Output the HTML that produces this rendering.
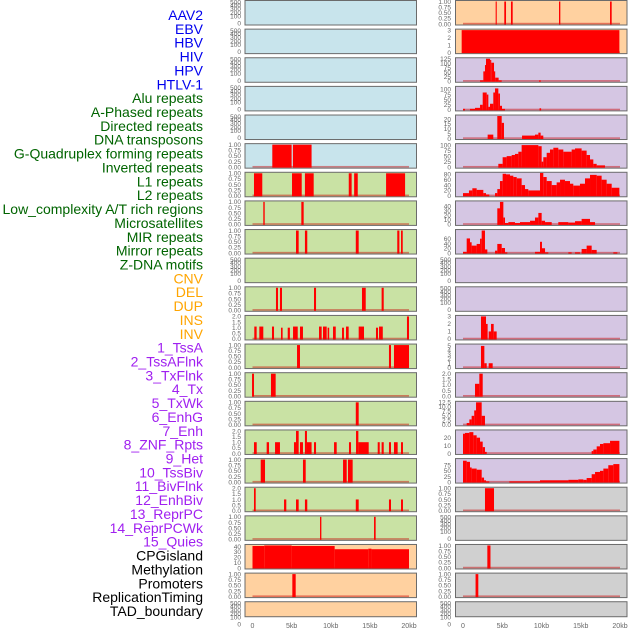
<!DOCTYPE html>
<html><head><meta charset="utf-8"><style>
html,body{margin:0;padding:0;background:#fff;}
svg{display:block;font-family:"Liberation Sans",sans-serif;}
</style></head><body>
<svg id="chart" width="630" height="630" viewBox="0 0 630 630" xmlns="http://www.w3.org/2000/svg">
<g id="labels"></g>
<g id="panels"></g>
<g id="xaxis"></g>
</svg>
<script>
const trackLabels = ["AAV2","EBV","HBV","HIV","HPV","HTLV-1","Alu repeats","A-Phased repeats","Directed repeats","DNA transposons","G-Quadruplex forming repeats","Inverted repeats","L1 repeats","L2 repeats","Low_complexity A/T rich regions","Microsatellites","MIR repeats","Mirror repeats","Z-DNA motifs","CNV","DEL","DUP","INS","INV","1_TssA","2_TssAFlnk","3_TxFlnk","4_Tx","5_TxWk","6_EnhG","7_Enh","8_ZNF_Rpts","9_Het","10_TssBiv","11_BivFlnk","12_EnhBiv","13_ReprPC","14_ReprPCWk","15_Quies","CPGisland","Methylation","Promoters","ReplicationTiming","TAD_boundary"];
const labelGroups = [6,13,5,15,5];
const groupColors = ["#0000ee","#006400","#ffa500","#a020f0","#000000"];
const xTickLabels = ["0","5kb","10kb","15kb","20kb"];
const xTickValues = [0,5,10,15,20];

const U=["0.00","0.25","0.50","0.75","1.00"], T2=["0.0","0.5","1.0","1.5","2.0"], E="empty";
const aTicks = [E,E,E,E,E,U,U,U,U,E,U,T2,U,U,U,T2,U,T2,U,["0","10","20","30","40"],U,E];
const aMax = [500,500,500,500,500,1,1,1,1,500,1,2,1,1,1,2,1,2,1,42,1,500];
const bTicks = [U,["0","1","2","3"],["0","25","50","75","100","125"],["0","25","50","75","100"],["0","5","10","15","20"],["0","25","50","75","100"],["0","20","40","60","80"],["0","10","20","30","40"],["0","20","40","60"],E,E,["0","1","2","3"],["0","1","2","3","4","5"],T2,["0.0","2.5","5.0","7.5","10.0","12.5"],["0","10","20"],["0","25","50","75"],U,E,U,U,E];
const bMax = [1,3,125,110,23,102,84,49,94,500,500,3,5.2,2,12.5,28.5,100,1,500,1,1,500];
const aBg = ["blue","blue","blue","blue","blue","blue","green","green","green","green","green","green","green","green","green","green","green","green","green","orange","orange","orange"];
const bBg = ["orange","orange","purple","purple","purple","purple","purple","purple","purple","purple","purple","purple","purple","purple","purple","purple","purple","gray","gray","gray","gray","gray"];

const aSegs = [
[],[],[],[],[],
[[2.53,5.0,1],[5.16,7.55,1]],
[[0.19,1.25,1],[5.05,6.29,1],[6.7,7.82,1],[12.3,12.67,1],[12.99,13.45,1],[17.07,19.5,1]],
[[1.38,1.56,1],[6.24,6.54,1]],
[[5.56,5.9,1],[6.7,7.0,1],[13.2,13.57,1],[18.5,18.77,1],[18.98,19.2,1]],
[],
[[3.0,3.26,1],[3.51,3.77,1],[7.86,8.12,1],[13.99,14.47,1],[16.5,16.77,1]],
[[0.23,0.53,1.1],[0.87,1.38,1.1],[2.49,2.75,1.1],[3.64,3.85,1],[4.5,4.78,1],[5.18,5.78,1.1],[6.07,6.45,1.1],[8.5,8.84,1.1],[9.01,9.48,1.1],[9.6,9.8,1],[10.29,10.64,1.1],[11.44,11.69,1],[11.95,12.29,1.1],[13.57,14.25,1.1],[15.78,16.04,1],[16.17,16.65,1.1],[19.74,20.0,2]],
[[5.69,6.07,1],[17.44,17.7,1],[18.08,20.0,1]],
[[-0.06,0.19,1],[2.36,2.96,1]],
[[13.2,13.57,1]],
[[0.19,0.54,1],[1.81,2.11,1],[2.88,3.51,1],[5.3,5.56,1],[5.56,5.9,2],[6.07,6.45,1],[6.7,6.96,2],[6.96,7.55,1],[7.86,8.12,1],[10.42,10.76,1],[12.33,12.59,1],[13.23,13.53,2],[13.53,14.85,1],[16.0,16.26,1],[16.5,16.77,1],[17.44,17.7,1],[18.08,18.55,1],[18.98,19.23,1]],
[[1.05,1.6,1],[6.45,6.8,1],[11.57,12.04,1],[12.2,12.8,1]],
[[0.19,0.41,2],[4.03,4.32,1],[5.56,5.9,1],[6.7,7.0,1],[13.2,13.57,1],[17.44,17.7,1],[18.98,19.23,1]],
[[8.63,8.8,1],[15.53,15.74,1]],
[[0,1.5,41],[1.5,5,42],[5,10.5,41],[10.5,14.8,35],[14.8,15.2,36],[15.2,20,35]],
[[5.09,5.52,1]],
[]
];
const bSegs = [
[[4.16,4.3,1],[5.26,5.48,1],[6.11,6.33,1],[12.23,12.4,1],[18.73,18.94,1]],
[[-0.17,19.92,3]],
[[2.17,2.59,5],[2.59,2.8,55],[2.8,2.93,90],[2.93,3.45,125],[3.45,3.6,118],[3.6,3.95,103],[3.95,4.1,55],[4.1,4.54,20],[4.54,4.93,5],[9.7,9.9,5]],
[[0,0.25,5],[0.89,1.53,5],[1.53,2.17,10],[2.17,2.51,25],[2.51,3.02,85],[3.02,3.23,75],[3.23,3.44,15],[3.44,3.86,30],[3.86,4.08,85],[4.08,4.5,105],[4.5,4.71,80],[4.71,4.97,20],[4.97,5.35,5],[9.75,9.95,8]],
[[3.14,3.86,4],[4.37,4.93,23],[4.93,5.22,16],[7.52,9.17,3],[9.17,9.6,4],[9.6,9.89,6],[9.89,10.23,3]],
[[4.5,5.05,15],[5.05,5.56,45],[5.56,6.2,50],[6.2,6.62,55],[6.62,7.05,60],[7.05,7.47,70],[7.47,7.9,100],[7.9,9.6,100],[9.6,10.02,95],[10.02,10.23,25],[10.23,10.66,45],[10.66,11.08,65],[11.08,11.51,80],[11.51,12.14,88],[12.14,12.78,80],[12.78,13.84,70],[13.84,14.27,80],[14.27,15.11,85],[15.11,15.75,75],[15.75,16.18,55],[16.18,16.6,35],[16.6,17.03,15],[17.03,18.09,8]],
[[0,0.76,10],[0.76,1.19,20],[1.19,1.74,28],[1.74,2.59,22],[2.59,2.93,10],[2.93,3.35,5],[4.08,4.37,10],[4.37,4.71,25],[4.71,5.05,55],[5.05,5.48,82],[5.48,5.99,80],[5.99,6.41,75],[6.41,6.84,70],[6.84,7.47,65],[7.47,7.9,40],[7.9,8.32,25],[8.32,9.81,20],[9.81,10.23,85],[10.23,10.66,70],[10.66,11.3,55],[11.3,11.93,40],[11.93,12.36,50],[12.36,12.99,60],[12.99,13.63,55],[13.63,14.05,45],[14.05,14.9,38],[14.9,15.54,45],[15.54,16.18,65],[16.18,17.03,78],[17.03,17.66,75],[17.66,18.3,60],[18.3,18.94,45],[18.94,19.92,30]],
[[4.37,4.71,35],[4.71,5.14,49],[5.14,5.35,15],[5.35,5.78,3],[5.78,6.62,5],[6.62,7.26,3],[7.26,8.54,5],[8.54,9.17,8],[9.17,9.6,15],[9.6,10.02,25],[10.02,10.45,8],[10.45,11.3,5],[12.14,13.42,5],[13.42,14.27,4],[14.27,15.11,7],[15.11,16.18,12],[16.18,16.82,5]],
[[0,0.47,5],[0.47,0.89,61],[0.89,1.1,45],[1.1,1.74,31],[1.74,2.17,38],[2.17,2.38,60],[2.38,2.8,94],[2.8,3.1,15],[4.08,4.37,10],[4.37,4.93,38],[4.93,5.35,21],[5.35,5.65,3],[9.17,9.81,5],[9.81,10.06,47],[10.06,10.45,20],[10.45,10.87,3],[13.42,13.84,3],[14.27,14.9,3],[15.11,15.75,17],[15.75,16.39,31],[16.39,17.03,13],[19.15,19.66,3]],
[],[],
[[2.29,2.93,3],[2.93,3.14,2],[3.27,3.57,1],[3.57,3.91,2],[3.91,4.29,1]],
[[2.29,2.72,5],[2.72,3.02,1],[3.27,3.78,1]],
[[1.53,2.08,1.1],[2.08,2.51,2]],
[[0.47,0.81,1],[0.81,1.1,3],[1.1,1.43,5],[1.43,1.66,8],[1.66,2.38,12.5],[2.38,2.8,5]],
[[0,0.25,25],[0.25,0.81,26],[0.81,1.32,27],[1.32,1.74,23],[1.74,2.17,20],[2.17,2.51,15],[2.51,2.8,8],[2.8,3.02,2],[16.39,16.6,3],[16.6,17.03,5],[17.03,17.45,9],[17.45,17.88,12],[17.88,18.73,13],[18.73,19.92,16]],
[[0,0.47,95],[0.47,0.89,90],[0.89,1.1,65],[1.1,1.74,60],[1.74,2.38,55],[2.38,2.68,20],[2.68,2.93,8],[2.93,3.35,3],[5.9,9.81,3],[9.81,13.42,8],[13.42,14.69,10],[14.69,15.33,12],[15.33,15.75,10],[15.75,16.39,18],[16.39,16.82,35],[16.82,17.45,45],[17.45,17.88,50],[17.88,18.51,60],[18.51,19.15,75],[19.15,19.92,80]],
[[2.8,3.95,1]],
[],
[[3.1,3.5,1]],
[[1.6,1.95,1]],
[]
];

const NS="http://www.w3.org/2000/svg";
const bgColors={blue:"#c8e4ec",green:"#c9e2a4",orange:"#ffd1a0",purple:"#d5c6e3",gray:"#d0d0d0"};
function mk(tag,attrs,parent){const e=document.createElementNS(NS,tag);for(const k in attrs)e.setAttribute(k,attrs[k]);parent.appendChild(e);return e;}

// labels
const gl=document.getElementById("labels");
let gi=0,cnt=0;
trackLabels.forEach((t,i)=>{
  while(cnt>=labelGroups[gi]){cnt-=labelGroups[gi];gi++;}
  cnt++;
  const e=mk("text",{x:203,y:15+i*13.86+5,"text-anchor":"end","font-size":"14",fill:groupColors[gi]},gl);
  
  
  e.textContent=t;
});

const gp=document.getElementById("panels");
const cols=[{x0:245,x1:416.5,z:252.5,k:7.825,tx:241,ticks:aTicks,max:aMax,segs:aSegs,bg:aBg,name:"left"},
            {x0:455.5,x1:627,z:463,k:7.85,tx:451,ticks:bTicks,max:bMax,segs:bSegs,bg:bBg,name:"right"}];
const emptyOff={"500":1.8,"400":5,"300":8.6,"200":12.4,"100":16,"0":23};
for(let r=0;r<22;r++){
  const top=0.5+r*28.63, h=(r===21)?15:24.5, bot=top+h;
  cols.forEach(c=>{
    const g=mk("g",{},gp);
    
    
    const bg=mk("rect",{x:c.x0,y:top,width:c.x1-c.x0,height:h,fill:bgColors[c.bg[r]],stroke:"#6b6b6b","stroke-width":1},g);
    
    
    const xs=v=>c.z+v*c.k;
    const ys=v=>bot-1-v/c.max[r]*(h-2);
    const segs=c.segs[r];
    if(segs.length){
      const bl=mk("rect",{x:xs(0),y:bot-2.2,width:xs(20)-xs(0),height:1.6,fill:"rgba(200,0,0,0.45)"},g);
      
      
    }
    segs.forEach(s=>{
      const b=mk("rect",{x:xs(s[0]),y:ys(s[2]),width:Math.max(0.8,xs(s[1])-xs(s[0])),height:ys(0)-ys(s[2])+0.5,fill:"#ff0000"},g);
      
      
    });
    const tk=c.ticks[r];
    if(tk===E){
      Object.keys(emptyOff).forEach(k=>{
        const t=mk("text",{x:c.tx,y:top+emptyOff[k]+2,"text-anchor":"end","font-size":"6.5",fill:"#666"},g);
        
        
        t.textContent=k;
      });
    } else {
      tk.forEach(k=>{
        const t=mk("text",{x:c.tx,y:ys(parseFloat(k))+2.3,"text-anchor":"end","font-size":"6.5",fill:"#666"},g);
        
        
        t.textContent=k;
      });
    }
  });
}
const gx=document.getElementById("xaxis");
cols.forEach(c=>{
  xTickValues.forEach((v,i)=>{
    const t=mk("text",{x:c.z+v*c.k,y:628,"text-anchor":"middle","font-size":"7",fill:"#666"},gx);
    
    
    t.textContent=xTickLabels[i];
  });
});
</script>
</body></html>
